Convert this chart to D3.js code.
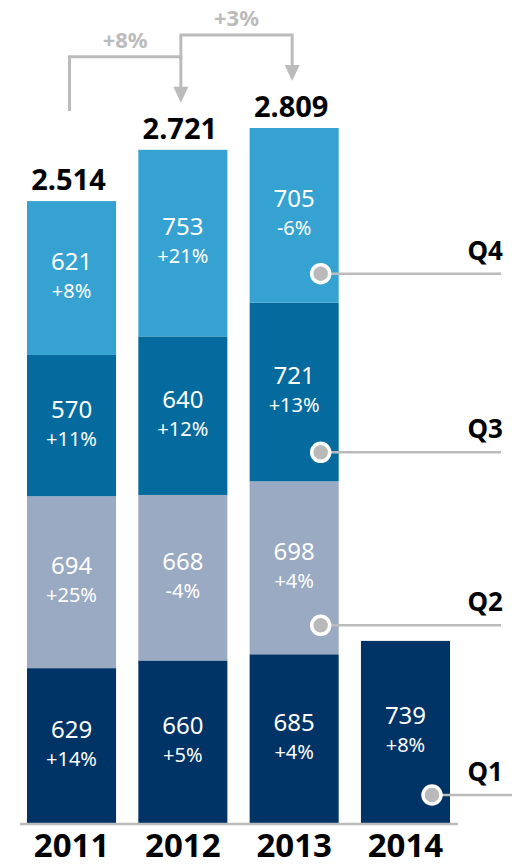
<!DOCTYPE html>
<html>
<head>
<meta charset="utf-8">
<script src="https://cdn.jsdelivr.net/npm/d3@7"></script>
<style>
  html, body { margin: 0; padding: 0; background: #fff; }
  svg { display: block; font-family: "Noto Sans", "Open Sans", sans-serif; }
</style>
</head>
<body>
<svg id="chart" width="516" height="866"></svg>
<script>
// ---- data ----
const years = ["2011", "2012", "2013", "2014"];
const quarters = ["Q1", "Q2", "Q3", "Q4"];
const q1Values = [629, 660, 685, 739];
const q2Values = [694, 668, 698, null];
const q3Values = [570, 640, 721, null];
const q4Values = [621, 753, 705, null];
const q1Growth = ["+14%", "+5%", "+4%", "+8%"];
const q2Growth = ["+25%", "-4%", "+4%", null];
const q3Growth = ["+11%", "+12%", "+13%", null];
const q4Growth = ["+8%", "+21%", "-6%", null];
const totalGrowth = ["+8%", "+3%"]; // 2011->2012, 2012->2013
const quarterColors = ["#003366", "#99aac2", "#056b9e", "#36a2d1"];

// ---- layout ----
const baseY = 824;
const svg = d3.select("#chart");

const seriesValues = [q1Values, q2Values, q3Values, q4Values];
const seriesGrowth = [q1Growth, q2Growth, q3Growth, q4Growth];

const x = d3.scaleBand().domain(years).range([27, 450]).paddingInner(0.2).paddingOuter(0);
const y = d3.scaleLinear().domain([0, 2809]).range([baseY, 128]);

const fmt = d3.formatLocale({ decimal: ",", thousands: ".", grouping: [3], currency: ["", ""] }).format(",");

// build stacked segments
const segments = [];
const totals = years.map(() => 0);
years.forEach((yr, i) => {
  let acc = 0;
  quarters.forEach((q, k) => {
    const v = seriesValues[k][i];
    if (v == null) return;
    segments.push({ year: yr, i, k, q, v, g: seriesGrowth[k][i], y0: acc, y1: acc + v });
    acc += v;
  });
  totals[i] = acc;
});

// bars
svg.append("g").selectAll("rect").data(segments).join("rect")
  .attr("x", d => x(d.year))
  .attr("width", x.bandwidth())
  .attr("y", d => y(d.y1))
  .attr("height", d => y(d.y0) - y(d.y1))
  .attr("fill", d => quarterColors[d.k]);

// baseline
svg.append("line")
  .attr("x1", 20).attr("x2", 458)
  .attr("y1", baseY).attr("y2", baseY)
  .attr("stroke", "#bbbbbb").attr("stroke-width", 2.5);

// segment labels
const lab = svg.append("g").attr("fill", "#ffffff").attr("text-anchor", "middle");
segments.forEach(d => {
  const cx = x(d.year) + x.bandwidth() / 2;
  const cy = (y(d.y0) + y(d.y1)) / 2;
  lab.append("text").attr("x", cx).attr("y", cy - 8)
    .attr("font-size", 24).text(d.v);
  lab.append("text").attr("x", cx).attr("y", cy + 20)
    .attr("font-size", 20).text(d.g);
});

// totals (only for years with all quarters)
years.forEach((yr, i) => {
  const complete = seriesValues.every(s => s[i] != null);
  if (!complete) return;
  svg.append("text")
    .attr("x", x(yr) + x.bandwidth() / 2 - 3)
    .attr("y", y(totals[i]) - 11)
    .attr("text-anchor", "middle")
    .attr("font-size", 29).attr("font-weight", "bold").attr("fill", "#000")
    .text(fmt(totals[i]));
});

// growth brackets
const gray = "#bbbbbb";
const br = svg.append("g");
totalGrowth.forEach((g, j) => {
  const a = years[j], b = years[j + 1];
  const xa = x(a) + x.bandwidth() / 2 - 2;
  const xb = x(b) + x.bandwidth() / 2 - 2;
  const topA = y(totals[j]), topB = y(totals[j + 1]);
  const levelY = topB - 93;
  const startY = topA - 90;
  const tipY = topB - 47;
  br.append("path")
    .attr("d", `M${xa},${startY}V${levelY}H${xb}V${tipY - 14}`)
    .attr("fill", "none").attr("stroke", gray).attr("stroke-width", 3);
  br.append("path")
    .attr("d", `M${xb - 7.5},${tipY - 16}L${xb + 7.5},${tipY - 16}L${xb},${tipY}Z`)
    .attr("fill", gray);
  br.append("text")
    .attr("x", (xa + xb) / 2).attr("y", levelY - 9)
    .attr("text-anchor", "middle")
    .attr("font-size", 22).attr("font-weight", "bold").attr("fill", gray)
    .text(g);
});

// quarter legend callouts: attach to the last year that has that quarter
const leg = svg.append("g");
quarters.forEach((q, k) => {
  let last = -1;
  seriesValues[k].forEach((v, i) => { if (v != null) last = i; });
  const seg = segments.find(s => s.k === k && s.i === last);
  const cx = x(seg.year) + x.bandwidth() - 18;
  const cy = y(seg.y0) - 29;
  const endX = last === years.length - 1 ? 512 : 501;
  leg.append("line")
    .attr("x1", cx).attr("x2", endX).attr("y1", cy).attr("y2", cy)
    .attr("stroke", gray).attr("stroke-width", 2.5);
  leg.append("circle")
    .attr("cx", cx).attr("cy", cy).attr("r", 9)
    .attr("fill", "#b9b9b9").attr("stroke", "#fff").attr("stroke-width", 3.5);
  leg.append("text")
    .attr("x", 503).attr("y", cy - 14)
    .attr("text-anchor", "end")
    .attr("font-size", 26).attr("font-weight", "bold").attr("fill", "#000")
    .text(q);
});

// year labels
svg.append("g").selectAll("text").data(years).join("text")
  .attr("x", d => x(d) + x.bandwidth() / 2)
  .attr("y", 857)
  .attr("text-anchor", "middle")
  .attr("font-size", 33).attr("font-weight", "bold").attr("fill", "#000")
  .text(d => d);
</script>
</body>
</html>
